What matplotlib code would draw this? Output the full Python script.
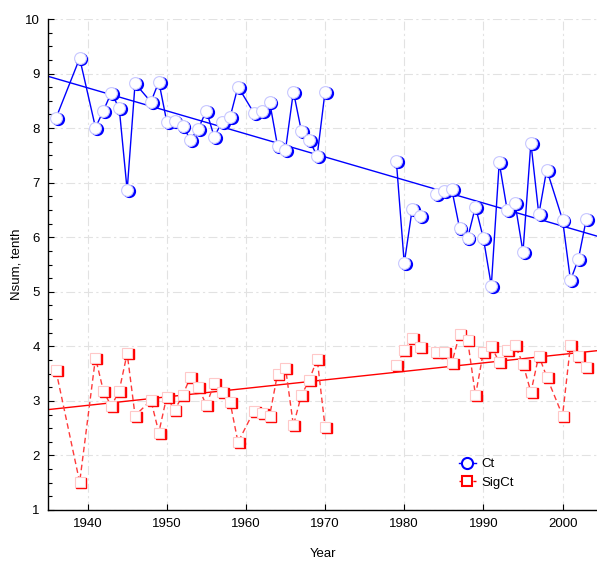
import numpy as np
import matplotlib
matplotlib.use("Agg")
import matplotlib.pyplot as plt
from matplotlib.lines import Line2D
from matplotlib.transforms import offset_copy

nan = np.nan

# yearly series (nan rows break the connecting line)
years = [1936, 1939, 1941, 1942, 1943, 1944, 1945, 1946, 1948, 1949,
         1950, 1951, 1952, 1953, 1954, 1955, 1956, 1957, 1958, 1959,
         1961, 1962, 1963, 1964, 1965, 1966, 1967, 1968, 1969, 1970,
         1975, 1979, 1980, 1981, 1982, 1983, 1984, 1985, 1986, 1987,
         1988, 1989, 1990, 1991, 1992, 1993, 1994, 1995, 1996, 1997,
         1998, 2000, 2001, 2002, 2003]

ct = [8.18, 9.28, 8.01, 8.32, 8.65, 8.36, 6.86, 8.82, 8.48, 8.85,
      8.12, 8.13, 8.04, 7.79, 7.99, 8.32, 7.84, 8.12, 8.20, 8.76,
      8.28, 8.32, 8.48, 7.67, 7.60, 8.67, 7.95, 7.78, 7.49, 8.67,
      nan, 7.40, 5.52, 6.51, 6.39, nan, 6.80, 6.85, 6.88, 6.16,
      5.98, 6.56, 5.98, 5.11, 7.37, 6.50, 6.62, 5.73, 7.73, 6.42,
      7.24, 6.32, 5.21, 5.60, 6.33]

sig_ct = [3.56, 1.51, 3.79, 3.18, 2.90, 3.19, 3.87, 2.73, 3.01, 2.42,
          3.08, 2.83, 3.10, 3.44, 3.25, 2.92, 3.32, 3.16, 2.98, 2.24,
          2.81, 2.78, 2.73, 3.50, 3.61, 2.55, 3.10, 3.38, 3.77, 2.52,
          nan, 3.65, 3.93, 4.15, 3.98, nan, 3.90, 3.90, 3.69, 4.23,
          4.12, 3.10, 3.90, 4.00, 3.71, 3.93, 4.02, 3.68, 3.16, 3.83,
          3.44, 2.73, 4.02, 3.82, 3.62]

# linear trend lines
trend_years = [1935, 2004.35]
ct_trend = [8.95, 6.02]
sig_trend = [2.84, 3.92]

BLUE = "#0000ff"
RED = "#ff0000"

plt.rcParams["font.family"] = ["Liberation Sans Narrow", "Liberation Sans", "DejaVu Sans"]
plt.rcParams["font.size"] = 9.5

fig = plt.figure(figsize=(5.97, 5.63), dpi=100)
ax = fig.add_axes([48 / 597, 1 - 510 / 563, 549 / 597, 491 / 563])

shadow = offset_copy(ax.transData, fig=fig, x=1.8, y=-1.0, units="dots")

# Ct
ax.plot(trend_years, ct_trend, color=BLUE, lw=1, zorder=2)
ax.plot(years, ct, color=BLUE, lw=1, zorder=2)
ax.plot(years, ct, ls="none", marker="o", ms=8.5, mfc=BLUE, mec=BLUE,
        transform=shadow, zorder=3)
ax.plot(years, ct, ls="none", marker="o", ms=8.5, mfc="white",
        mec="#c8c8ff", mew=0.8, zorder=4)

# SigCt
ax.plot(trend_years, sig_trend, color=RED, lw=1, zorder=2)
ax.plot(years, sig_ct, color="#ff3a3a", lw=1, dashes=(4, 2.5), zorder=2)
ax.plot(years, sig_ct, ls="none", marker="s", ms=7.5, mfc=RED, mec=RED,
        transform=shadow, zorder=3)
ax.plot(years, sig_ct, ls="none", marker="s", ms=7.5, mfc="white",
        mec="#ffc8c8", mew=0.8, zorder=4)

ax.set_xlim(1935, 2004.35)
ax.set_ylim(1, 10)
ax.set_xticks(np.arange(1940, 2001, 10))
ax.set_yticks(np.arange(1, 11, 1))
ax.set_yticks(np.arange(1, 10.01, 0.25), minor=True)

ax.grid(True, which="major", color="#e2e2e2", lw=0.8, ls=(0, (8, 3, 2, 3)), zorder=0)
ax.set_axisbelow(True)

for side in ("top", "right"):
    ax.spines[side].set_visible(False)
for side in ("left", "bottom"):
    ax.spines[side].set_linewidth(1.0)
    ax.spines[side].set_color("black")

ax.tick_params(which="major", direction="in", length=4, width=0.8, pad=6, labelsize=9.5)
ax.tick_params(which="minor", direction="in", length=3, width=0.8)
ax.tick_params(axis="x", which="minor", length=0)

ax.set_xlabel("Year", fontsize=9.5, labelpad=13)
ax.set_ylabel("Nsum, tenth", fontsize=9.5, labelpad=2)

handles = [
    Line2D([], [], color=BLUE, lw=1, marker="o", ms=8, mfc="white", mec=BLUE, mew=1.5),
    Line2D([], [], color=RED, lw=1, dashes=(3, 2), marker="s", ms=7, mfc="white", mec=RED, mew=1.5),
]
fig.legend(handles, ["Ct", "SigCt"], loc="center left",
           bbox_to_anchor=(452 / 597, 1 - 473.5 / 563), frameon=False,
           borderpad=0, handlelength=1.3, handletextpad=0.4, labelspacing=0.5,
           fontsize=9.5)

fig.savefig("out.png", dpi=100)
